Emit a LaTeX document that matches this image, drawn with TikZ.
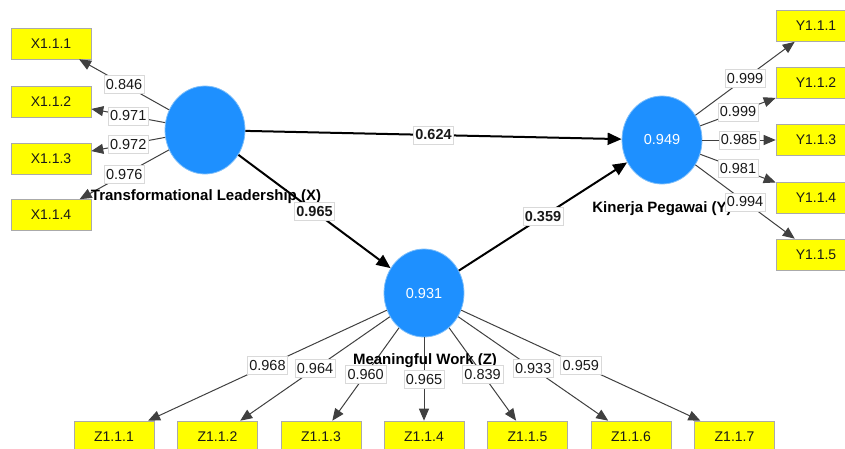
\documentclass[tikz,border=0pt]{standalone}
\usepackage{fontspec}
\setmainfont{Liberation Sans}
\usetikzlibrary{shapes.geometric,arrows.meta}
\definecolor{lvblue}{RGB}{30,144,255}
\definecolor{lvedge}{RGB}{125,190,250}
\definecolor{indyel}{RGB}{255,255,0}
\definecolor{indedge}{RGB}{170,170,170}
\begin{document}
\begin{tikzpicture}[x=1pt,y=-1pt,
  latent/.style={ellipse, fill=lvblue, draw=lvedge, line width=0.8pt, minimum width=80pt, minimum height=88pt, inner sep=0pt, text=white, font=\fontsize{14.5}{16}\selectfont},
  ind/.style={rectangle, fill=indyel, draw=indedge, line width=0.6pt, minimum width=80pt, minimum height=31pt, inner sep=0pt, font=\fontsize{14}{16}\selectfont, text=black!90},
  loadarrow/.style={draw=black!75, line width=1pt, -{Triangle[length=12pt,width=10pt]}},
  structarrow/.style={draw=black, line width=2pt, -{Triangle[length=14pt,width=12pt]}},
  lbl/.style={fill=white, draw=black!15, line width=0.5pt, inner xsep=2pt, inner ysep=0pt, minimum height=18pt, font=\fontsize{14.5}{16}\selectfont, text=black!90},
  plbl/.style={lbl, font=\bfseries\fontsize{14.5}{16}\selectfont},
  lvname/.style={font=\bfseries\fontsize{15}{17}\selectfont, text=black, inner sep=0pt}]
\clip (0,0) rectangle (845,448);
% indicators
\node[ind] (x1) at (51,43.5) {X1.1.1};
\node[ind] (x2) at (51,101.5) {X1.1.2};
\node[ind] (x3) at (51,158.5) {X1.1.3};
\node[ind] (x4) at (51,215) {X1.1.4};
\node[ind] (y1) at (816,26) {Y1.1.1};
\node[ind] (y2) at (816,83) {Y1.1.2};
\node[ind] (y3) at (816,140) {Y1.1.3};
\node[ind] (y4) at (816,197.5) {Y1.1.4};
\node[ind] (y5) at (816,254.5) {Y1.1.5};
\node[ind] (z1) at (114,436.5) {Z1.1.1};
\node[ind] (z2) at (217.5,436.5) {Z1.1.2};
\node[ind] (z3) at (321,436.5) {Z1.1.3};
\node[ind] (z4) at (424,436.5) {Z1.1.4};
\node[ind] (z5) at (527.5,436.5) {Z1.1.5};
\node[ind] (z6) at (631,436.5) {Z1.1.6};
\node[ind] (z7) at (734.5,436.5) {Z1.1.7};
% latent variables
\node[latent] (X) at (205,130) {};
\node[latent] (Y) at (662,140) {0.949};
\node[latent] (Z) at (424,293) {0.931};
% loadings
\draw[loadarrow] (X) -- coordinate[midway] (lx1) (x1);
\draw[loadarrow] (X) -- coordinate[midway] (lx2) (x2);
\draw[loadarrow] (X) -- coordinate[midway] (lx3) (x3);
\draw[loadarrow] (X) -- coordinate[midway] (lx4) (x4);
\draw[loadarrow] (Y) -- coordinate[midway] (ly1) (y1);
\draw[loadarrow] (Y) -- coordinate[midway] (ly2) (y2);
\draw[loadarrow] (Y) -- coordinate[midway] (ly3) (y3);
\draw[loadarrow] (Y) -- coordinate[midway] (ly4) (y4);
\draw[loadarrow] (Y) -- coordinate[midway] (ly5) (y5);
\draw[loadarrow] (Z) -- coordinate[midway] (lz1) (z1);
\draw[loadarrow] (Z) -- coordinate[midway] (lz2) (z2);
\draw[loadarrow] (Z) -- coordinate[midway] (lz3) (z3);
\draw[loadarrow] (Z) -- coordinate[midway] (lz4) (z4);
\draw[loadarrow] (Z) -- coordinate[midway] (lz5) (z5);
\draw[loadarrow] (Z) -- coordinate[midway] (lz6) (z6);
\draw[loadarrow] (Z) -- coordinate[midway] (lz7) (z7);
% structural paths
\draw[structarrow] (X) -- coordinate[midway] (pxy) (Y);
\draw[structarrow] (X) -- coordinate[midway] (pxz) (Z);
\draw[structarrow] (Z) -- coordinate[midway] (pzy) (Y);
% latent names
\node[lvname] (nX) at (206,197) {Transformational Leadership (X)};
\node[lvname] (nY) at (662,209) {Kinerja Pegawai (Y)};
\node[lvname] (nZ) at (425,361) {Meaningful Work (Z)};
% labels
\node[lbl] at (lx1) {0.846};
\node[lbl] at (lx2) {0.971};
\node[lbl] at (lx3) {0.972};
\node[lbl] at (lx4) {0.976};
\node[lbl] at (ly1) {0.999};
\node[lbl] at (ly2) {0.999};
\node[lbl] at (ly3) {0.985};
\node[lbl] at (ly4) {0.981};
\node[lbl] at (ly5) {0.994};
\node[lbl] at (lz1) {0.968};
\node[lbl] at (lz2) {0.964};
\node[lbl] at (lz3) {0.960};
\node[lbl] at (lz4) {0.965};
\node[lbl] at (lz5) {0.839};
\node[lbl] at (lz6) {0.933};
\node[lbl] at (lz7) {0.959};
\node[plbl] at (pxy) {0.624};
\node[plbl] at (pxz) {0.965};
\node[plbl] at (pzy) {0.359};
\end{tikzpicture}
\end{document}
